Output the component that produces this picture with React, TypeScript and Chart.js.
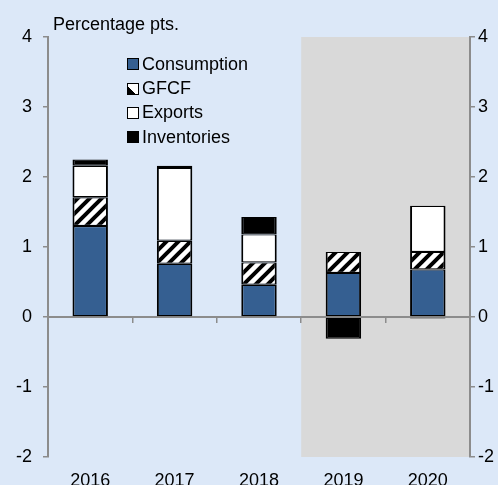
import React, { useEffect, useRef } from "react";
import { Chart, registerables } from "chart.js";

Chart.register(...registerables);

const years = ["2016", "2017", "2018", "2019", "2020"];
const consumption = [1.3, 0.76, 0.46, 0.63, 0.68];
const gfcf = [0.41, 0.33, 0.32, 0.3, 0.25];
const exportsData: (number | null)[] = [0.45, 1.04, 0.4, null, 0.66];
const inventories = [0.09, 0.03, 0.25, -0.31, -0.02];
const yTicks = [-2, -1, 0, 1, 2, 3, 4];
const shadedFromIndex = 3;

const FONT = "'Liberation Sans', Arial, sans-serif";
const BG = "#dce8f8";
const SHADE = "#d9d9d9";
const AXIS = "#8c8c8c";
const BLUE = "#355f91";

function makeHatch(): CanvasPattern | string {
  const s = 12;
  const c = document.createElement("canvas");
  c.width = s;
  c.height = s;
  const g = c.getContext("2d");
  if (!g) return "#888";
  g.fillStyle = "#fff";
  g.fillRect(0, 0, s, s);
  g.strokeStyle = "#000";
  g.lineWidth = 4;
  g.beginPath();
  g.moveTo(-2, s + 2);
  g.lineTo(s + 2, -2);
  g.moveTo(-s / 2 - 2, s / 2 + 2);
  g.lineTo(s / 2 + 2, -s / 2 - 2);
  g.moveTo(s / 2 - 2, s * 1.5 + 2);
  g.lineTo(s * 1.5 + 2, s / 2 - 2);
  g.stroke();
  const p = g.createPattern(c, "repeat");
  return p || "#888";
}

const shadePlugin = {
  id: "shadeForecast",
  beforeDraw(chart: any) {
    const x = chart.scales.x;
    const area = chart.chartArea;
    if (!x || !area) return;
    const left = (x.getPixelForValue(shadedFromIndex - 1) + x.getPixelForValue(shadedFromIndex)) / 2;
    const ctx = chart.ctx;
    ctx.save();
    ctx.fillStyle = SHADE;
    ctx.fillRect(left, area.top, area.right - left, area.bottom - area.top);
    ctx.restore();
  },
};

export default function App() {
  const ref = useRef<HTMLCanvasElement | null>(null);

  useEffect(() => {
    if (!ref.current) return;
    const hatch = makeHatch();
    const bw = { top: 1.2, bottom: 1.2, left: 2, right: 2 };
    const common = {
      borderColor: "#000",
      borderWidth: bw,
      borderSkipped: false,
      xAxisID: "x",
      yAxisID: "y",
      stack: "s",
    };
    const tickFont = { family: FONT, size: 18 };
    const chart = new Chart(ref.current, {
      type: "bar",
      data: {
        labels: years,
        datasets: [
          { label: "Consumption", data: consumption, backgroundColor: BLUE, ...common } as any,
          { label: "GFCF", data: gfcf, backgroundColor: hatch, ...common } as any,
          { label: "Exports", data: exportsData, backgroundColor: "#ffffff", ...common } as any,
          { label: "Inventories", data: inventories, backgroundColor: "#000000", ...common } as any,
        ],
      },
      options: {
        animation: false,
        responsive: false,
        maintainAspectRatio: false,
        layout: { padding: { top: 37, left: 0, right: 0, bottom: 0 } },
        datasets: { bar: { categoryPercentage: 1, barPercentage: 0.42 } },
        plugins: { legend: { display: false }, tooltip: { enabled: false }, title: { display: false } },
        scales: {
          x: {
            type: "category",
            position: "bottom",
            stacked: true,
            offset: true,
            grid: { display: false, drawTicks: false },
            border: { display: false },
            ticks: { color: "#000", font: tickFont, padding: 13, maxRotation: 0, autoSkip: false },
            afterFit: (s: any) => {
              s.height = 28;
            },
          },
          x2: {
            type: "category",
            position: { y: 0 } as any,
            offset: true,
            grid: { offset: true, drawOnChartArea: false, drawTicks: true, tickLength: 5, color: AXIS, lineWidth: 1.5 },
            border: { display: true, color: AXIS, width: 2 },
            ticks: { display: false },
          },
          y: {
            type: "linear",
            position: "left",
            stacked: true,
            min: -2,
            max: 4,
            afterBuildTicks: (s: any) => {
              s.ticks = yTicks.map((v) => ({ value: v }));
            },
            grid: { drawOnChartArea: false, drawTicks: true, tickLength: 5, color: AXIS, lineWidth: 1.5 },
            border: { display: true, color: AXIS, width: 2 },
            ticks: { color: "#000", font: tickFont, padding: 11 },
            afterFit: (s: any) => {
              s.width = 48;
            },
          },
          y2: {
            type: "linear",
            position: "right",
            min: -2,
            max: 4,
            afterBuildTicks: (s: any) => {
              s.ticks = yTicks.map((v) => ({ value: v }));
            },
            grid: { drawOnChartArea: false, drawTicks: true, tickLength: 5, color: AXIS, lineWidth: 1.5 },
            border: { display: true, color: AXIS, width: 2 },
            ticks: { color: "#000", font: tickFont, padding: 3 },
            afterFit: (s: any) => {
              s.width = 28;
            },
          },
        },
      } as any,
      plugins: [shadePlugin],
    });
    return () => chart.destroy();
  }, []);

  const legendItems = [
    { label: "Consumption", style: { background: BLUE } },
    { label: "GFCF", style: { background: "linear-gradient(45deg, #000 0%, #000 38%, #fff 38%, #fff 100%)" } },
    { label: "Exports", style: { background: "#fff" } },
    { label: "Inventories", style: { background: "#000" } },
  ];

  return (
    <div
      style={{
        position: "fixed",
        left: 0,
        top: 0,
        width: 498,
        height: 485,
        background: BG,
        fontFamily: FONT,
        overflow: "hidden",
      }}
    >
      <canvas ref={ref} width={498} height={485} style={{ position: "absolute", left: 0, top: 0, width: 498, height: 485 }} />
      <div style={{ position: "absolute", left: 53, top: 14, fontSize: 18, color: "#000", lineHeight: "20px" }}>
        Percentage pts.
      </div>
      <div style={{ position: "absolute", left: 127, top: 52, fontSize: 18, color: "#000" }}>
        {legendItems.map((it) => (
          <div key={it.label} style={{ display: "flex", alignItems: "center", height: 24.4 }}>
            <span
              style={{
                display: "inline-block",
                width: 10,
                height: 10,
                border: "1.5px solid #000",
                marginRight: 3,
                ...it.style,
              }}
            />
            <span>{it.label}</span>
          </div>
        ))}
      </div>
    </div>
  );
}
